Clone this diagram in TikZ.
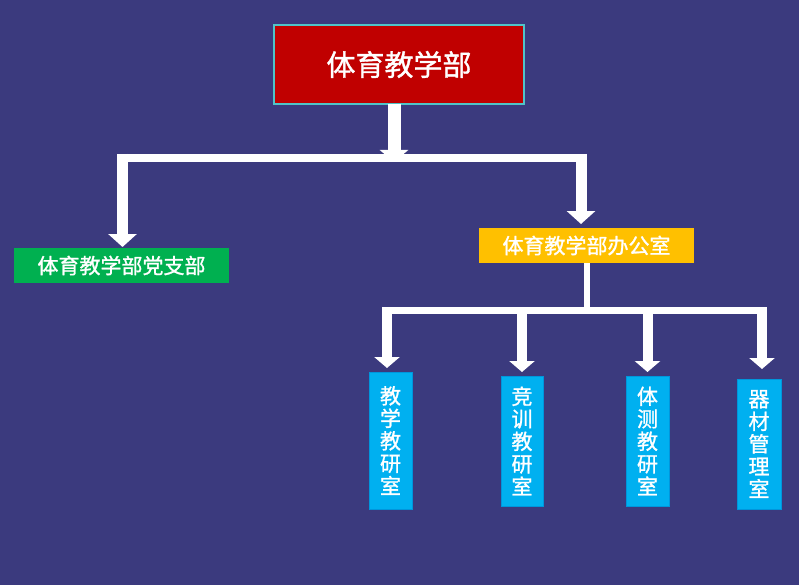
\documentclass[tikz,border=0pt]{standalone}
\usepackage{fontspec}
\newfontfamily\cjk[FakeBold=1.2]{Noto Sans CJK SC}
\usetikzlibrary{arrows.meta}
\definecolor{bg}{RGB}{59,58,126}
\definecolor{topred}{RGB}{192,0,0}
\definecolor{topedge}{RGB}{80,196,200}
\definecolor{pgreen}{RGB}{0,176,80}
\definecolor{pyellow}{RGB}{255,192,0}
\definecolor{pblue}{RGB}{0,176,240}
\definecolor{pblueedge}{RGB}{0,150,220}
\tikzset{
  box/.style={inner sep=0pt, outer sep=0pt, text=white, font=\cjk},
  vbox/.style={box, fill=pblue, draw=pblueedge, line width=0.8pt, align=center,
    font=\cjk\fontsize{21}{22.5}\selectfont},
  bigarrow/.style={white, line width=11pt, -{Triangle[width=28pt,length=13pt]}},
  smallarrow/.style={white, line width=10pt, -{Triangle[width=25pt,length=11pt]}},
  bar/.style={white, line width=8pt},
  thinbar/.style={white, line width=7pt},
}
\begin{document}
\begin{tikzpicture}[x=1pt,y=-1pt]
\fill[bg] (0,0) rectangle (799,585);
\useasboundingbox (0,0) rectangle (799,585);

% nodes
\node[box, fill=topred, draw=topedge, line width=1.5pt, minimum width=250pt, minimum height=79pt,
  font=\cjk\fontsize{29}{32}\selectfont] (top) at (399,64.5) {体育教学部};
\node[box, fill=pgreen, minimum width=215pt, minimum height=35pt,
  font=\cjk\fontsize{21}{24}\selectfont] (party) at (121.5,265.5) {体育教学部党支部};
\node[box, fill=pyellow, minimum width=215pt, minimum height=35pt,
  font=\cjk\fontsize{21}{24}\selectfont] (office) at (586.5,245.5) {体育教学部办公室};
\node[vbox, minimum width=43pt, minimum height=137pt] (b1) at (390.5,440.5) {教\\学\\教\\研\\室};
\node[vbox, minimum width=42pt, minimum height=130pt] (b2) at (522,441) {竞\\训\\教\\研\\室};
\node[vbox, minimum width=43pt, minimum height=130pt] (b3) at (647.5,441) {体\\测\\教\\研\\室};
\node[vbox, minimum width=44pt, minimum height=130pt] (b4) at (759,444) {器\\材\\管\\理\\室};

% upper junctions
\coordinate (jl) at (117,158);
\coordinate (jr) at (586,158);
\coordinate (jt) at (394,162);
\draw[bar] (jl) -- (jr);
\draw[white, line width=13pt, -{Triangle[width=28pt,length=12pt]}] (top.south -| jt) -- (jt);
\draw[bigarrow] (122.5,154) -- ([yshift=1pt]party.north -| 122.5,0);
\draw[bigarrow] (581,154) -- ([yshift=4pt]office.north -| 581,0);

% lower junctions
\coordinate (ja) at (382,310.5);
\coordinate (jb) at (767,310.5);
\coordinate (jo) at (587,310.5);
\draw[white, line width=6pt] (office.south -| jo) -- (jo);
\draw[thinbar] (ja) -- (jb);
\draw[smallarrow] (387,307) -- ([yshift=4pt]b1.north -| 387,0);
\draw[smallarrow] (522,307) -- ([yshift=4pt]b2.north);
\draw[smallarrow] (647.5,307) -- ([yshift=4pt]b3.north);
\draw[smallarrow] (762,307) -- ([yshift=10pt]b4.north -| 762,0);
\end{tikzpicture}
\end{document}
